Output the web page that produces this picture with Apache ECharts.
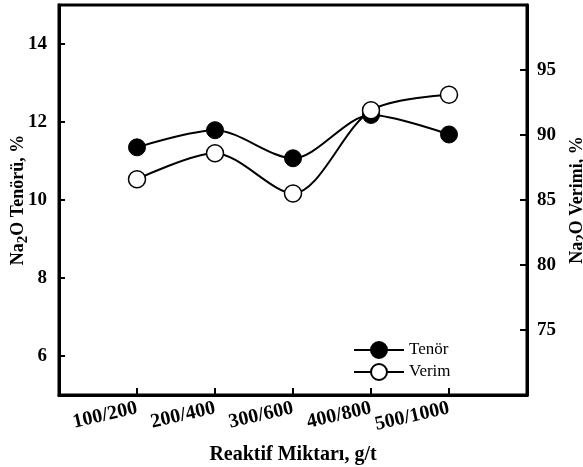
<!DOCTYPE html>
<html>
<head>
<meta charset="utf-8">
<script src="https://cdn.jsdelivr.net/npm/echarts@6/dist/echarts.min.js"></script>
<style>
  html, body { margin: 0; padding: 0; background: #fff; }
  #main { width: 583px; height: 467px; }
</style>
</head>
<body>
<div id="main"></div>
<script>
// reagent dosage (g/t) on the x axis
var categories = ['100/200', '200/400', '300/600', '400/800', '500/1000'];
// Na2O grade, % (left axis)
var tenor = [11.35, 11.79, 11.07, 12.18, 11.68];
// Na2O recovery, % (right axis)
var verim = [86.6, 88.6, 85.5, 91.9, 93.1];
var leftTicks = [6, 8, 10, 12, 14];
var rightTicks = [75, 80, 85, 90, 95];

var serif = "'Liberation Serif', 'Times New Roman', serif";

// empty slots on both ends so the points sit one step in from the frame
var xCats = [''].concat(categories, ['']);

function pairs(vals) {
    return vals.map(function (v, i) { return [categories[i], v]; });
}

var nameStyle = {
    fontFamily: serif,
    fontWeight: 'bold',
    fontSize: 18,
    color: '#000',
    rich: {
        a: { fontFamily: serif, fontWeight: 'bold', fontSize: 18, color: '#000', verticalAlign: 'top' },
        s: { fontFamily: serif, fontWeight: 'bold', fontSize: 15, color: '#000', verticalAlign: 'top', padding: [7, 0, 0, 0] }
    }
};

var option = {
    animation: false,
    grid: {
        left: 59, right: 56, top: 5, bottom: 72,
        outerBoundsMode: 'none',
        containLabel: false,
        show: true, borderColor: '#000', borderWidth: 3
    },
    legend: {
        orient: 'vertical',
        left: 348,
        top: 336,
        itemWidth: 50,
        itemHeight: 20,
        itemGap: 4,
        textStyle: { fontFamily: serif, fontSize: 17, color: '#000' },
        data: ['Tenör', 'Verim']
    },
    xAxis: {
        type: 'category',
        data: xCats,
        boundaryGap: false,
        name: 'Reaktif Miktarı, g/t',
        nameLocation: 'middle',
        nameGap: 50,
        nameMoveOverlap: false,
        nameTextStyle: { fontFamily: serif, fontWeight: 'bold', fontSize: 20, color: '#000' },
        axisLine: { lineStyle: { color: '#000', width: 3 } },
        axisTick: { inside: true, length: 7, interval: 0, lineStyle: { color: '#000', width: 2 } },
        axisLabel: {
            interval: 0, rotate: 13, margin: 13,
            fontFamily: serif, fontWeight: 'bold', fontSize: 20, color: '#000'
        },
        splitLine: { show: false }
    },
    yAxis: [
        {
            type: 'value',
            min: 5, max: 15,
            position: 'left',
            name: '{a|Na}{s|2}{a|O Tenörü, %}',
            nameLocation: 'middle',
            nameRotate: 90,
            nameGap: 28,
            nameMoveOverlap: false,
            nameTextStyle: nameStyle,
            axisLine: { show: true, lineStyle: { color: '#000', width: 3 } },
            axisTick: { show: true, inside: true, length: 6, customValues: leftTicks, lineStyle: { color: '#000', width: 2 } },
            axisLabel: {
                customValues: leftTicks, margin: 12,
                fontFamily: serif, fontWeight: 'bold', fontSize: 19, color: '#000'
            },
            splitLine: { show: false }
        },
        {
            type: 'value',
            min: 70, max: 100,
            position: 'right',
            name: '{a|Na}{s|2}{a|O Verimi, %}',
            nameLocation: 'middle',
            nameRotate: 90,
            nameGap: 41,
            nameMoveOverlap: false,
            nameTextStyle: nameStyle,
            axisLine: { show: true, lineStyle: { color: '#000', width: 3 } },
            axisTick: { show: true, inside: true, length: 7, customValues: rightTicks, lineStyle: { color: '#000', width: 2 } },
            axisLabel: {
                customValues: rightTicks, margin: 10,
                fontFamily: serif, fontWeight: 'bold', fontSize: 19, color: '#000'
            },
            splitLine: { show: false }
        }
    ],
    series: [
        {
            name: 'Tenör',
            type: 'line',
            yAxisIndex: 0,
            smooth: 0.3,
            data: pairs(tenor),
            symbol: 'circle',
            symbolSize: 17,
            itemStyle: { color: '#000', borderColor: '#000', borderWidth: 1 },
            lineStyle: { color: '#000', width: 2 },
            z: 3
        },
        {
            name: 'Verim',
            type: 'line',
            yAxisIndex: 1,
            smooth: 0.3,
            data: pairs(verim),
            symbol: 'circle',
            symbolSize: 17,
            itemStyle: { color: '#fff', borderColor: '#000', borderWidth: 1.5 },
            lineStyle: { color: '#000', width: 2 },
            z: 4
        }
    ]
};

var chart = echarts.init(document.getElementById('main'));
chart.setOption(option);
</script>
</body>
</html>
